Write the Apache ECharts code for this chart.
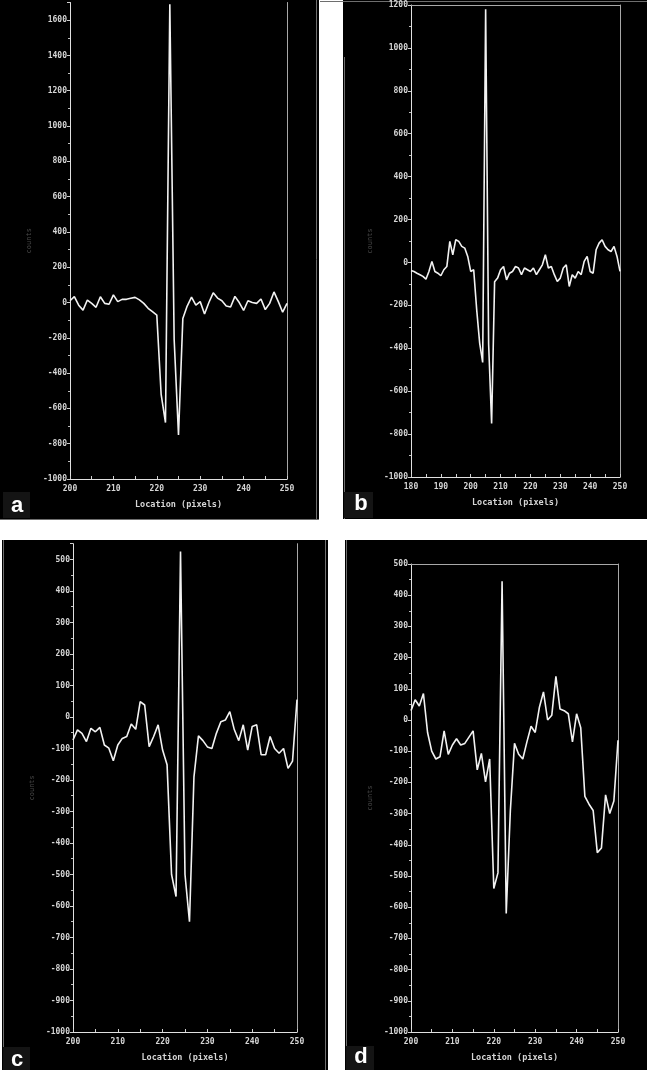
<!DOCTYPE html>
<html>
<head>
<meta charset="utf-8">
<script src="https://cdn.jsdelivr.net/npm/echarts@6/dist/echarts.min.js"></script>
<style>
html,body{margin:0;padding:0;background:#fff;}
#chart{width:647px;height:1070px;}
</style>
</head>
<body>
<div id="chart"></div>
<script>
// ---- data (counts vs location in pixels, one value per pixel) ----
const startA = 200;
const countsA = [10,33,-15,-43,14,-5,-27,33,-5,-10,43,5,18,18,24,29,15,-5,-33,-52,-71,
  -520,-680,1690,-210,-750,-90,-20,30,-15,5,
  -65,0,55,25,10,-20,-25,35,0,-45,
  10,0,-5,20,-40,-5,60,5,-55,-5];

const startB = 180;
const countsB = [-37,-42,-50,-57,-65,-78,-42,5,-42,-50,
  -62,-34,-19,98,36,106,98,75,67,28,
  -42,-34,-220,-376,-466,1180,-380,-750,-90,-73,
  -34,-19,-81,-50,-42,-19,-26,-57,-26,-34,
  -42,-26,-57,-34,-11,36,-26,-19,-57,-89,
  -73,-26,-11,-112,-57,-73,-42,-57,5,28,
  -42,-50,59,90,106,75,59,51,75,28,-42];

const startC = 200;
const countsC = [-73,-41,-52,-78,-36,-47,-33,-89,-99,-139,
  -89,-68,-62,-22,-39,49,38,-94,-62,-25,
  -105,-152,-500,-570,525,-500,-650,-190,-60,-75,
  -95,-100,-52,-15,-10,17,-40,-75,-25,-105,
  -30,-25,-120,-120,-62,-100,-115,-100,-163,-140,55];

const startD = 200;
const countsD = [30,65,45,85,-40,-100,-125,-118,-35,-110,
  -80,-60,-80,-75,-55,-35,-160,-107,-198,-125,
  -540,-490,445,-620,-290,-75,-110,-125,-70,-20,
  -40,40,90,0,15,140,35,30,20,-70,
  20,-25,-245,-270,-290,-425,-410,-240,-300,-260,-65];

// axis ranges / tick spacing
const xRanges = [[200,250],[180,250],[200,250],[200,250]];
const yRanges = [[-1000,1700],[-1000,1200],[-1000,550],[-1000,500]];
const yIntervals = [200,200,100,100];
const panelLetters = ['a','b','c','d'];
const xName = 'Location (pixels)';
const yName = 'counts';

function pairs(start, vals){ return vals.map((v,i)=>[start+i, v]); }
const seriesData = [pairs(startA,countsA), pairs(startB,countsB), pairs(startC,countsC), pairs(startD,countsD)];

const grids = [
  {left:70,  top:2.5,   width:217, height:476.5},
  {left:411, top:5,     width:209, height:472},
  {left:73,  top:543.7, width:224, height:488.3},
  {left:411, top:564,   width:207, height:468}
];

const mono = '"DejaVu Sans Mono", "Liberation Mono", monospace';
const labelStyle = {color:'#d6d6d6', fontFamily:mono, fontSize:8, fontWeight:'bold', formatter:(v)=>String(v)};

const xAxes = [], yAxes = [], series = [];
for (let i=0;i<4;i++){
  xAxes.push({
    type:'value', gridIndex:i, min:xRanges[i][0], max:xRanges[i][1], interval:10,
    axisLine:{show:true, onZero:false, lineStyle:{color:'#e0e0e0', width:1}},
    axisTick:{show:true, inside:true, length:3, lineStyle:{color:'#d0d0d0'}},
    minorTick:{show:true, splitNumber:2, length:3, lineStyle:{color:'#d0d0d0'}},
    axisLabel:Object.assign({margin:6}, labelStyle),
    splitLine:{show:false},
    name:xName, nameLocation:'middle', nameGap:21,
    nameTextStyle:{color:'#d6d6d6', fontFamily:mono, fontSize:8.5, fontWeight:'bold'}
  });
  yAxes.push({
    type:'value', gridIndex:i, min:yRanges[i][0], max:yRanges[i][1], interval:yIntervals[i],
    axisLine:{show:true, onZero:false, lineStyle:{color:'#e0e0e0', width:1}},
    axisTick:{show:true, inside:false, length:3, lineStyle:{color:'#d0d0d0'}},
    minorTick:{show:true, splitNumber:2, length:2, lineStyle:{color:'#c0c0c0'}},
    axisLabel:Object.assign({margin:3, showMaxLabel: (yRanges[i][1] % yIntervals[i] === 0)}, labelStyle),
    splitLine:{show:false},
    name:yName, nameLocation:'middle', nameGap:37, nameRotate:90,
    nameTextStyle:{color:'#4a4a4a', fontFamily:mono, fontSize:7}
  });
  series.push({
    type:'line', xAxisIndex:i, yAxisIndex:i, data:seriesData[i],
    showSymbol:false, symbol:'none', animation:false,
    lineStyle:{color:'#f2f2f2', width:1.6}
  });
}
// frame lines (right side for all, top for b and d)
const frameColor = '#a8a8a8';
for (let i=0;i<4;i++){
  yAxes.push({
    type:'value', gridIndex:i, position:'right', min:yRanges[i][0], max:yRanges[i][1],
    axisLine:{show:true, onZero:false, lineStyle:{color:frameColor, width:1}},
    axisTick:{show:false}, axisLabel:{show:false}, splitLine:{show:false}
  });
}
[1,3].forEach(i=>{
  xAxes.push({
    type:'value', gridIndex:i, position:'top', min:xRanges[i][0], max:xRanges[i][1],
    axisLine:{show:true, onZero:false, lineStyle:{color:frameColor, width:1}},
    axisTick:{show:false}, axisLabel:{show:false}, splitLine:{show:false}
  });
});

// panel backgrounds, borders and letters
const panels = [
  {x:0,   y:0,   w:319, h:519},
  {x:343, y:0,   w:304, h:519},
  {x:2,   y:540, w:326, h:530},
  {x:345, y:540, w:302, h:530}
];
const letterPos = [[17,506],[361,504],[17,1060],[361,1057]];
const boxes = [[3,492,27,26],[344,492,29,26],[3,1047,27,23],[346,1046,28,24]];
const graphic = [];
panels.forEach(p=>{
  graphic.push({type:'rect', z:-10, shape:{x:p.x,y:p.y,width:p.w,height:p.h}, style:{fill:'#000'}});
});
const borderLines = [
  [316.5,0,316.5,519], [0,519.5,319,519.5], [320,1.5,647,1.5], [344.5,57,344.5,519],
  [3.5,540,3.5,1070], [325.5,540,325.5,1070], [346.5,540,346.5,1070]
];
borderLines.forEach(l=>{
  graphic.push({type:'line', z:-9, shape:{x1:l[0],y1:l[1],x2:l[2],y2:l[3]}, style:{stroke:'#6e6e6e', lineWidth:1}});
});
boxes.forEach(b=>{
  graphic.push({type:'rect', z:20, shape:{x:b[0],y:b[1],width:b[2],height:b[3]}, style:{fill:'#141414'}});
});
panelLetters.forEach((t,i)=>{
  graphic.push({type:'text', z:21, style:{text:t, x:letterPos[i][0], y:letterPos[i][1], fill:'#ffffff',
    font:'bold 22px "Liberation Sans", Arial, sans-serif', align:'center', verticalAlign:'middle'}});
});

const chart = echarts.init(document.getElementById('chart'), null, {renderer:'canvas'});
chart.setOption({
  backgroundColor:'#ffffff',
  animation:false,
  grid: grids,
  xAxis: xAxes,
  yAxis: yAxes,
  series: series,
  graphic: graphic
});
</script>
</body>
</html>
